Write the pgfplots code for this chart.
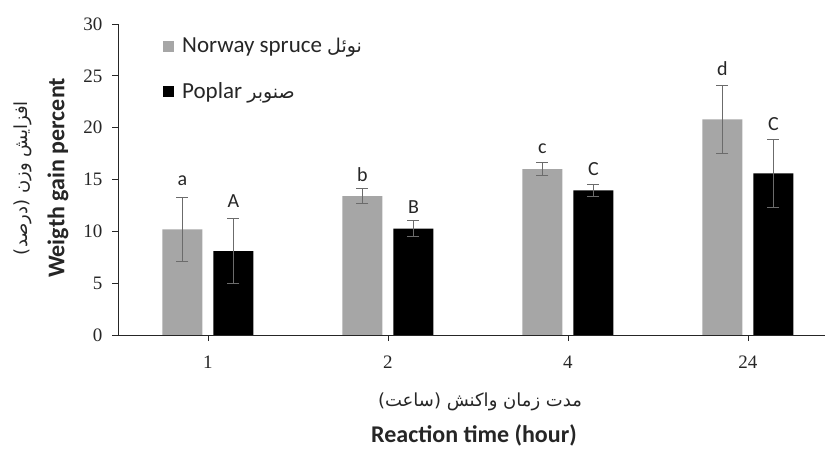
\documentclass[border=0pt]{standalone}
\usepackage{fontspec}
\setmainfont{Liberation Serif}
\newfontfamily\calibri{Carlito}
\newfontfamily\arabicfont[Script=Arabic]{DejaVu Sans}
\TeXXeTstate=1
\usepackage{pgfplots}
\usepackage{pgfplotstable}
\pgfplotsset{compat=1.18}
\definecolor{barGray}{HTML}{A6A6A6}
\definecolor{errGray}{HTML}{6B6B6B}
\definecolor{axGray}{HTML}{262626}

\pgfplotstableread{
x y e
0 10.2 3.1
1 13.4 0.7
2 16.0 0.6
3 20.8 3.3
}\spruce
\pgfplotstableread{
x y e
0 8.1 3.1
1 10.25 0.75
2 13.95 0.55
3 15.6 3.27
}\poplar

\begin{document}
\begin{tikzpicture}[x=1pt,y=1pt]
\begin{axis}[
  at={(118pt,115pt)}, anchor=south west,
  width=707pt, height=311pt, scale only axis,
  xmin=-0.5, xmax=3.428, ymin=0, ymax=30,
  axis x line*=bottom, axis y line*=left,
  axis line style={-, axGray, line width=0.8pt},
  xtick={0,1,2,3}, xticklabels={1,2,4,24},
  ytick={0,5,...,30},
  tick align=outside, major tick length=6pt,
  tick style={axGray, line width=0.8pt},
  ybar=11pt, bar width=40pt,
  /pgf/number format/assume math mode=true,
  tick label style={font=\fontsize{19}{22}\selectfont, text=axGray},
  xticklabel style={yshift=-11pt},
  yticklabel style={xshift=-6pt},
  legend image code/.code={\fill[#1] (0pt,-5.5pt) rectangle (11pt,5.5pt);},
  legend style={at={(axis description cs:0.0636,0.955)}, anchor=north west,
    draw=none, fill=none, inner sep=0pt, row sep=28pt, column sep=8pt,
    font=\calibri\fontsize{23}{27}\selectfont,
    nodes={inner sep=0pt, text=axGray}},
  legend cell align=left,
]
\addplot[fill=barGray, draw=none,
  error bars/.cd, y dir=both, y explicit,
  error bar style={errGray, line width=1pt},
  error mark options={rotate=90, errGray, line width=1pt, mark size=6pt}]
  table[x=x, y=y, y error=e] {\spruce};
\addlegendentry{Norway spruce {\arabicfont\fontsize{19}{22}\selectfont\beginR نوئل\endR}}
\addplot[fill=black, draw=none,
  error bars/.cd, y dir=both, y explicit,
  error bar style={errGray, line width=1pt},
  error mark options={rotate=90, errGray, line width=1pt, mark size=6pt}]
  table[x=x, y=y, y error=e] {\poplar};
\addlegendentry{Poplar {\arabicfont\fontsize{19}{22}\selectfont\beginR صنوبر\endR}}

\begin{scope}[every node/.style={font=\calibri\fontsize{20}{24}\selectfont, text=axGray}]
\node at (axis cs:-0.1417,14.9) {a};
\node at (axis cs:0.1417,12.9) {A};
\node at (axis cs:0.8583,15.5) {b};
\node at (axis cs:1.1417,12.3) {B};
\node at (axis cs:1.8583,18.0) {c};
\node at (axis cs:2.1417,16.05) {C};
\node at (axis cs:2.8583,25.7) {d};
\node at (axis cs:3.1417,20.35) {C};
\end{scope}
\end{axis}

\node[rotate=90, font=\arabicfont\fontsize{18}{21}\selectfont, text=axGray] at (23,272) {\beginR افزایش وزن (درصد)\endR};
\node[rotate=90, font=\calibri\bfseries\fontsize{24}{28}\selectfont, text=axGray] at (58,272) {Weigth gain percent};
\node[font=\arabicfont\fontsize{18}{21}\selectfont, text=axGray] at (480,48) {\beginR مدت زمان واکنش (ساعت)\endR};
\node[font=\calibri\bfseries\fontsize{24}{28}\selectfont, text=axGray, anchor=base] at (474,7) {Reaction time (hour)};

\pgfresetboundingbox
\path[use as bounding box] (0,0) rectangle (825,450);
\end{tikzpicture}
\end{document}
